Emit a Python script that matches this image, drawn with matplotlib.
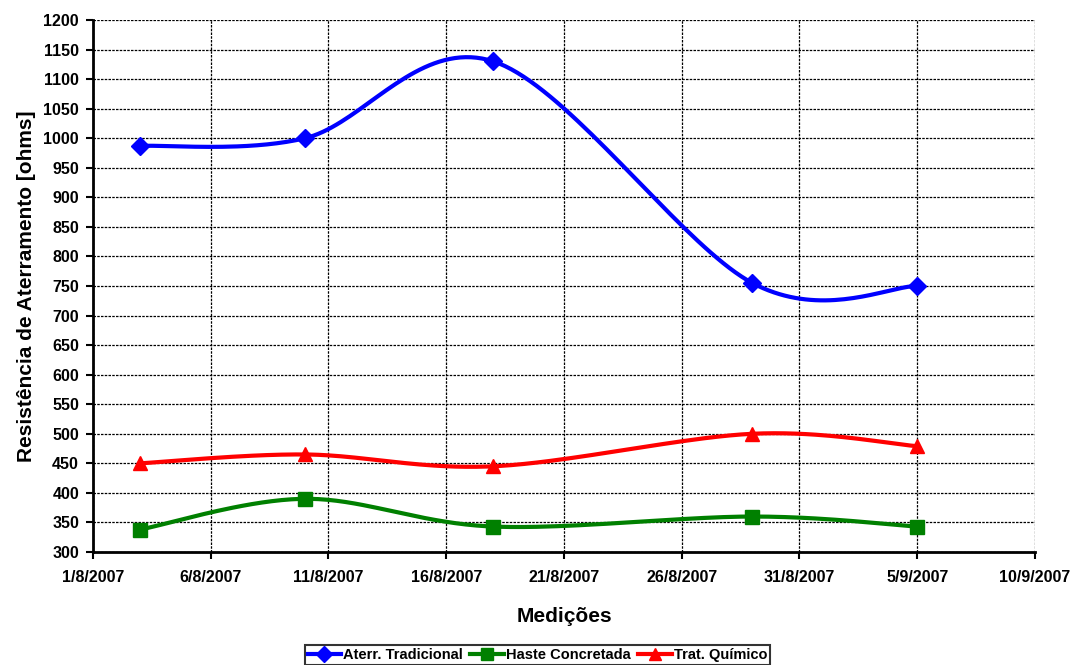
import datetime as dt
import numpy as np
import matplotlib
matplotlib.use("Agg")
import matplotlib.pyplot as plt
import matplotlib.dates as mdates
from matplotlib.ticker import MultipleLocator

plt.rcParams['font.family'] = ['Liberation Sans', 'DejaVu Sans']
plt.rcParams['font.weight'] = 'bold'

# ---- data ----
dates = [dt.date(2007, 8, 3), dt.date(2007, 8, 10), dt.date(2007, 8, 18),
         dt.date(2007, 8, 29), dt.date(2007, 9, 5)]
aterr_tradicional = [987, 1000, 1130, 755, 750]
haste_concretada = [338, 390, 343, 360, 343]
trat_quimico = [450, 465, 445, 500, 479]

series_names = ["Aterr. Tradicional", "Haste Concretada", "Trat. Químico"]
tick_dates = [dt.date(2007, 8, 1) + dt.timedelta(days=5 * i) for i in range(9)]
xlabel = "Medições"
ylabel = "Resistência de Aterramento [ohms]"


def smooth(x, y, n=40):
    """Excel-style smoothed line: cubic Bezier with Catmull-Rom control points."""
    x = np.asarray(x, float)
    y = np.asarray(y, float)
    P = np.column_stack([x, y])
    out = []
    for i in range(len(P) - 1):
        p0 = P[i]
        p3 = P[i + 1]
        prev = P[i - 1] if i > 0 else P[i]
        nxt = P[i + 2] if i + 2 < len(P) else P[i + 1]
        p1 = p0 + (p3 - prev) / 6.0
        p2 = p3 - (nxt - p0) / 6.0
        t = np.linspace(0, 1, n)[:, None]
        seg = ((1 - t) ** 3) * p0 + 3 * ((1 - t) ** 2) * t * p1 + 3 * (1 - t) * t ** 2 * p2 + t ** 3 * p3
        out.append(seg if i == 0 else seg[1:])
    s = np.vstack(out)
    return s[:, 0], s[:, 1]


xnum = mdates.date2num(dates)

fig = plt.figure(figsize=(10.75, 6.65), dpi=100)
ax = fig.add_axes([93 / 1075, 1 - 552 / 665, (1035 - 93) / 1075, (552 - 20) / 665])

styles = [
    (aterr_tradicional, "#0000FF", "D", 9),
    (haste_concretada, "#008000", "s", 9.5),
    (trat_quimico, "#FF0000", "^", 10.5),
]
handles = []
for (vals, col, mk, ms), name in zip(styles, series_names):
    sx, sy = smooth(xnum, vals)
    ax.plot(sx, sy, color=col, lw=3, solid_capstyle='round', zorder=3)
    ax.plot(xnum, vals, linestyle='none', marker=mk, markersize=ms, color=col, zorder=4)
    h, = ax.plot([], [], color=col, lw=3, marker=mk, markersize=ms * 0.85, label=name)
    handles.append(h)

ax.set_xlim(mdates.date2num(tick_dates[0]), mdates.date2num(tick_dates[-1]))
ax.set_ylim(300, 1200)
ax.set_xticks(mdates.date2num(tick_dates))
ax.set_xticklabels([f"{d.day}/{d.month}/{d.year}" for d in tick_dates])
ax.yaxis.set_major_locator(MultipleLocator(50))

ax.grid(True, color='black', linestyle=(0, (2, 1)), linewidth=0.9)
ax.set_axisbelow(True)
for s in ['top', 'right']:
    ax.spines[s].set_visible(False)
for s in ['left', 'bottom']:
    ax.spines[s].set_linewidth(2)
ax.tick_params(axis='both', direction='out', length=5, width=1.5, labelsize=11.5)
ax.tick_params(axis='x', pad=8)
ax.tick_params(axis='y', pad=5)
for lab in ax.get_xticklabels() + ax.get_yticklabels():
    lab.set_fontweight('bold')

ax.set_xlabel(xlabel, fontsize=15, fontweight='bold', labelpad=16)
ax.set_ylabel(ylabel, fontsize=15, fontweight='bold', labelpad=5)

leg = fig.legend(handles=handles, loc='upper center', bbox_to_anchor=(0.5, 1 - 645 / 665), ncol=3,
                 frameon=True, fancybox=False, edgecolor='black',
                 handlelength=2.3, handletextpad=0.15, columnspacing=0.5,
                 borderpad=0.2, borderaxespad=0, prop={'weight': 'bold', 'size': 10.5})
leg.get_frame().set_linewidth(1.5)

fig.savefig("out.png", dpi=100)
